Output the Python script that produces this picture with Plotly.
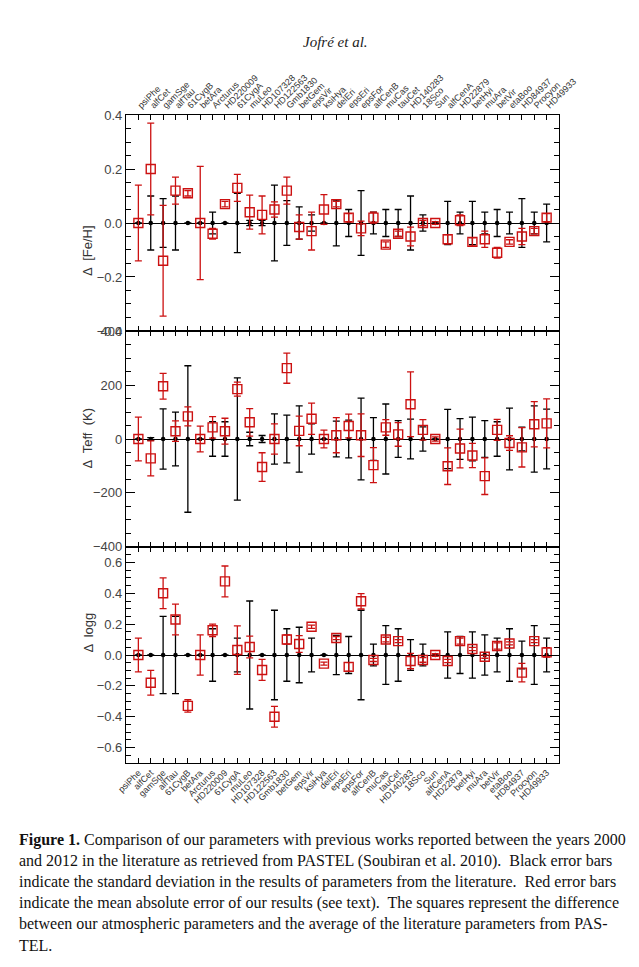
import plotly.graph_objects as go

# star names, left to right
stars = ["psiPhe", "alfCet", "gamSge", "alfTau", "61CygB", "betAra", "Arcturus",
         "HD220009", "61CygA", "muLeo", "HD107328", "HD122563", "Gmb1830", "betGem",
         "epsVir", "ksiHya", "delEri", "epsEri", "epsFor", "alfCenB", "muCas",
         "tauCet", "HD140283", "18Sco", "Sun", "alfCenA", "HD22879", "betHyi",
         "muAra", "betVir", "etaBoo", "HD84937", "Procyon", "HD49933"]

# [Fe/H]: our - literature (red square), our error (red), literature std (black)
feh_diff = [0.0, 0.20, -0.14, 0.12, 0.11, 0.0, -0.04, 0.07, 0.13, 0.04, 0.03, 0.05,
            0.12, -0.015, -0.03, 0.05, 0.07, 0.02, -0.02, 0.02, -0.08, -0.04, -0.05,
            0.0, 0.0, -0.06, 0.01, -0.07, -0.06, -0.11, -0.07, -0.05, -0.03, 0.02]
feh_err = [0.14, 0.17, 0.205, 0.05, 0.01, 0.21, 0.02, 0.01, 0.05, 0.063, 0.07, 0.028,
           0.05, 0.045, 0.07, 0.055, 0.01, 0.015, 0.027, 0.02, 0.01, 0.01, 0.035,
           0.01, 0.005, 0.017, 0.02, 0.015, 0.03, 0.02, 0.008, 0.03, 0.01, 0.015]
feh_std = [0.0, 0.10, 0.09, 0.10, 0.0, 0.0, 0.04, 0.0, 0.11, 0.01, 0.01, 0.14,
           0.083, 0.06, 0.03, 0.0, 0.085, 0.05, 0.12, 0.04, 0.05, 0.05, 0.10, 0.03,
           0.0, 0.08, 0.04, 0.08, 0.04, 0.05, 0.04, 0.09, 0.04, 0.07]

# Teff (K)
teff_diff = [0, -72, 196, 29, 84, 0, 43, 29, 185, 62, -104, 0, 263, 30, 75, 0, 14,
             48, 14, -97, 43, 17, 129, 34, 0, -101, -35, -61, -138, 34, -15, -31, 55, 58]
teff_err = [81, 65, 48, 38, 35, 48, 40, 48, 26, 51, 53, 56, 56, 55, 58, 33, 65, 44,
            79, 65, 29, 44, 120, 38, 8, 68, 72, 45, 68, 39, 27, 73, 84, 91]
teff_std = [0, 5, 112, 100, 272, 0, 64, 64, 227, 25, 13, 93, 89, 123, 56, 0, 66, 70,
            152, 79, 130, 68, 74, 45, 0, 110, 76, 81, 68, 64, 115, 44, 123, 111]

# logg
logg_diff = [0.0, -0.18, 0.40, 0.23, -0.33, 0.0, 0.16, 0.477, 0.032, 0.052, -0.097,
             -0.40, 0.10, 0.071, 0.183, -0.056, 0.11, -0.077, 0.348, -0.032, 0.10,
             0.09, -0.039, -0.032, 0.0, -0.039, 0.09, 0.039, -0.011, 0.058, 0.075,
             -0.114, 0.09, 0.017]
logg_err = [0.11, 0.08, 0.10, 0.10, 0.04, 0.13, 0.04, 0.10, 0.157, 0.07, 0.068, 0.067,
            0.03, 0.054, 0.01, 0.01, 0.01, 0.027, 0.05, 0.01, 0.015, 0.01, 0.05, 0.015,
            0.008, 0.01, 0.02, 0.01, 0.01, 0.02, 0.01, 0.06, 0.01, 0.03]
logg_std = [0.0, 0.0, 0.25, 0.25, 0.0, 0.0, 0.17, 0.0, 0.11, 0.35, 0.0, 0.29, 0.17,
            0.18, 0.11, 0.0, 0.127, 0.12, 0.29, 0.07, 0.19, 0.17, 0.10, 0.07, 0.0,
            0.15, 0.12, 0.15, 0.13, 0.11, 0.17, 0.09, 0.19, 0.11]

caption = [
    "<b>Figure 1.</b> Comparison of our parameters with previous works reported between the years 2000",
    "and 2012 in the literature as retrieved from PASTEL (Soubiran et al. 2010).  Black error bars",
    "indicate the standard deviation in the results of parameters from the literature.  Red error bars",
    "indicate the mean absolute error of our results (see text).  The squares represent the difference",
    "between our atmospheric parameters and the average of the literature parameters from PAS-",
    "TEL.",
]

W, H = 639, 967
RED = "#cc1111"
SANS = "Liberation Sans, Arial, sans-serif"
SERIF = "Liberation Serif, Times New Roman, serif"

xpos = list(range(1, len(stars) + 1))

panels = [
    (feh_diff, feh_err, feh_std, "Δ  [Fe/H]", (-0.4001, 0.4001), 0.2, 0.05, ".1f"),
    (teff_diff, teff_err, teff_std, "Δ  Teff  (K)", (-401, 401), 200, 50, "d"),
    (logg_diff, logg_err, logg_std, "Δ  logg", (-0.7, 0.7), 0.2, 0.05, ".1f"),
]

# pixel rows of the three boxes
x0, x1 = 126, 559
rows = [(115, 331), (331, 547), (547, 763)]

fig = go.Figure()
layout = {}
for i, (diff, err, std, title, yr, dt, mdt, fmt) in enumerate(panels):
    n = "" if i == 0 else str(i + 1)
    xa, ya = "x" + n, "y" + n
    fig.add_trace(go.Scatter(
        x=xpos, y=[0] * len(xpos), xaxis=xa, yaxis=ya, mode="markers",
        marker=dict(color="black", size=4.5, symbol="circle"),
        error_y=dict(type="data", array=std, color="black", thickness=1.3, width=3.5),
        showlegend=False))
    fig.add_trace(go.Scatter(
        x=xpos, y=diff, xaxis=xa, yaxis=ya, mode="markers",
        marker=dict(color=RED, size=9, symbol="square-open",
                    line=dict(color=RED, width=1.4)),
        error_y=dict(type="data", array=err, color=RED, thickness=1.3, width=3.5),
        showlegend=False))

    top, bot = rows[i]
    dom_y = [1 - bot / H, 1 - top / H]
    layout["xaxis" + n] = dict(
        domain=[x0 / W, x1 / W], range=[0, 35], anchor=ya, automargin=False,
        tickmode="array", tickvals=xpos, ticktext=stars,
        showticklabels=(i != 1), side="top" if i == 0 else "bottom",
        tickangle=-45, tickfont=dict(family=SANS, size=9, color="#333"),
        ticks="inside", ticklen=5, tickcolor="black",
        showline=True, linecolor="black", linewidth=1.2, mirror="allticks",
        showgrid=False, zeroline=False)
    layout["yaxis" + n] = dict(
        domain=dom_y, range=list(yr), anchor=xa, automargin=False,
        tickmode="linear", tick0=0, dtick=dt, tickformat=fmt,
        tickfont=dict(family=SANS, size=13, color="#444"),
        ticks="inside", ticklen=9, tickcolor="black",
        minor=dict(ticks="inside", ticklen=5, dtick=mdt, tick0=0, tickcolor="black"),
        showline=True, linecolor="black", linewidth=1.2, mirror="allticks",
        showgrid=False, zeroline=True, zerolinecolor="black", zerolinewidth=1.3)

annotations = [
    dict(text="<i>Jofré et al.</i>", x=335 / W, y=1 - 32 / H, xref="paper", yref="paper",
         showarrow=False, font=dict(family=SERIF, size=15, color="#222")),
]
for i, (_, _, _, title, *_rest) in enumerate(panels):
    top, bot = rows[i]
    annotations.append(dict(
        text=title, x=78 / W, y=1 - (top + bot) / 2 / H, xref="paper", yref="paper",
        showarrow=False, textangle=-90, font=dict(family=SANS, size=13, color="#333")))
for k, line in enumerate(caption):
    annotations.append(dict(
        text=line, x=17 / W, y=1 - (840 + 21 * k) / H, xref="paper", yref="paper",
        xanchor="left", yanchor="middle", showarrow=False,
        font=dict(family=SERIF, size=16, color="#111")))

fig.update_layout(
    width=W, height=H, margin=dict(l=0, r=0, t=0, b=0),
    paper_bgcolor="white", plot_bgcolor="white",
    annotations=annotations, **layout)

# drop the default page margin so the figure sits at the window's corner
fig.write_html("out.html", config={"displayModeBar": False},
               post_script="document.body.style.margin='0';")
